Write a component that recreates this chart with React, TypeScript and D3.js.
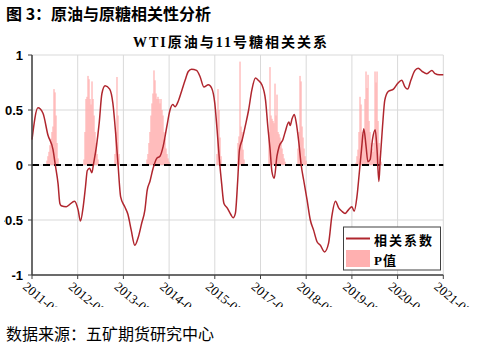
import * as d3 from "d3";

// x positions are in "tick periods": 0 = first label (2011), 9 = last (2021)
const tickLabels = [
  "2011-01", "2012-02", "2013-03", "2014-04", "2015-05",
  "2017-01", "2018-02", "2019-03", "2020-04", "2021-05",
];
const yTicks = [1, 0.5, 0, -0.5, -1];

// 相关系数 (rolling correlation)
const corrT = [
  0, 0.13, 0.24, 0.35, 0.46, 0.51, 0.57, 0.61, 0.64, 0.75,
  0.82, 0.93, 1.01, 1.06, 1.12, 1.17, 1.21, 1.26, 1.31, 1.35,
  1.41, 1.47, 1.53, 1.6, 1.7, 1.77, 1.83, 1.88, 1.94, 2.03,
  2.1, 2.17, 2.25, 2.33, 2.4, 2.47, 2.52, 2.58, 2.65, 2.73,
  2.8, 2.87, 2.95, 3.02, 3.08, 3.13, 3.2, 3.28, 3.35, 3.42,
  3.49, 3.6, 3.68, 3.76, 3.86, 3.93, 4.0, 4.05, 4.1, 4.15,
  4.2, 4.27, 4.35, 4.4, 4.45, 4.5, 4.54, 4.6, 4.67, 4.74,
  4.81, 4.89, 4.95, 5.03, 5.11, 5.16, 5.21, 5.25, 5.3, 5.36,
  5.41, 5.49, 5.54, 5.62, 5.65, 5.69, 5.74, 5.78, 5.84, 5.89,
  5.95, 6.02, 6.09, 6.16, 6.24, 6.31, 6.4, 6.49, 6.56, 6.64,
  6.71, 6.78, 6.85, 6.92, 7.0, 7.05, 7.11, 7.16, 7.21, 7.26,
  7.31, 7.35, 7.4, 7.45, 7.51, 7.55, 7.59, 7.62, 7.67, 7.72,
  7.8, 7.91, 8.0, 8.09, 8.16, 8.22, 8.29, 8.38, 8.45, 8.54,
  8.64, 8.75, 8.82, 8.91, 9.0,
];
const corrV = [
  0.23, 0.52, 0.47, 0.27, 0.14, 0, -0.17, -0.35, -0.37, -0.38,
  -0.36, -0.33, -0.41, -0.51, -0.38, -0.2, -0.05, -0.03, -0.07, 0.02,
  0.17, 0.38, 0.65, 0.72, 0.69, 0.56, 0.29, 0.02, -0.29, -0.38,
  -0.45, -0.59, -0.73, -0.65, -0.53, -0.41, -0.23, -0.15, -0.03, 0.06,
  0.08, 0.17, 0.35, 0.5, 0.55, 0.53, 0.58, 0.68, 0.77, 0.85,
  0.87, 0.86, 0.8, 0.71, 0.73, 0.7, 0.56, 0.32, 0.05, -0.17,
  -0.35, -0.39, -0.45, -0.48, -0.44, -0.15, 0.14, 0.23, 0.36, 0.5,
  0.68, 0.79, 0.77, 0.73, 0.59, 0.35, 0.14, -0.06, -0.12, 0.08,
  0.17, 0.23, 0.3, 0.39, 0.36, 0.42, 0.46, 0.39, 0.2, 0,
  -0.15, -0.32, -0.5, -0.59, -0.7, -0.73, -0.79, -0.71, -0.47, -0.33,
  -0.39, -0.42, -0.44, -0.41, -0.38, -0.42, -0.29, -0.08, 0.14, 0.33,
  0.17, 0.03, 0.05, 0.23, 0.32, 0.14, -0.15, 0.05, 0.35, 0.59,
  0.67, 0.69, 0.74, 0.77, 0.71, 0.69, 0.77, 0.86, 0.88, 0.85,
  0.83, 0.86, 0.83, 0.82, 0.82,
];

// P值: runs of consecutive samples, one sample every pStep
const pStep = 0.0219;
const pRunStart = [0.328, 1.138, 1.816, 2.516, 4.048, 4.508, 5.186, 5.821, 7.09];
const pRunValues = [
  [0.04, 0.08, 0.12, 0.18, 0.24, 0.3, 0.35, 0.69, 0.66, 0.45, 0.2, 0.06],
  [0.05, 0.3, 0.6, 0.62, 0.81, 0.78, 0.6, 0.55, 0.76, 0.6, 0.45, 0.3, 0.2, 0.1, 0.05],
  [0.1, 0.3, 0.8, 0.45, 0.1],
  [0.05, 0.1, 0.2, 0.3, 0.45, 0.56, 0.65, 0.86, 0.77, 0.65, 0.6, 0.62, 0.6, 0.56, 0.6, 0.5, 0.45, 0.3, 0.24, 0.15, 0.1, 0.06, 0.03],
  [0.1, 0.69, 0.5, 0.25, 0.08],
  [0.2, 0.26, 0.94, 0.35, 0.3, 0.14, 0.05],
  [0.3, 0.89, 0.45, 0.42, 0.4, 0.38, 0.74, 0.45, 0.64, 0.3, 0.28, 0.25, 0.2, 0.15, 0.1, 0.06, 0.03],
  [0.15, 0.3, 0.81, 0.76, 0.35, 0.25, 0.15, 0.08, 0.04],
  [0.02, 0.08, 0.14, 0.3, 0.62, 0.55, 0.3, 0.28, 0.3, 0.6, 0.85, 0.7, 0.82, 0.4, 0.3, 0.2, 0.15, 0.12, 0.2, 0.85, 0.75, 0.85, 0.4, 0.2, 0.08, 0.03],
];

const W = 483;
const H = 352;
const plot = { left: 32, right: 443.3, top: 55, bottom: 275 };
const lineColor = "#B0262E";
const barColor = "#FFB0B0";
const cjk = "'Noto Sans CJK SC', sans-serif";
const serif = "'Liberation Serif', 'Noto Sans CJK SC', serif";

export default function App() {
  const x = d3.scaleLinear().domain([0, 9]).range([plot.left, plot.right]);
  const y = d3.scaleLinear().domain([-1, 1]).range([plot.bottom, plot.top]);

  const corr = corrT.map((t, i) => ({ t, v: corrV[i] }));
  const line = d3
    .line<{ t: number; v: number }>()
    .x((d) => x(d.t))
    .y((d) => y(d.v))
    .curve(d3.curveMonotoneX);

  const bars = pRunStart.flatMap((s, r) =>
    pRunValues[r].map((p, k) => ({ t: s + k * pStep, p }))
  );
  const bw = x(pStep) - x(0) + 0.2;

  return (
    <svg
      width={W}
      height={H}
      style={{ position: "absolute", left: 0, top: 0, background: "#fff" }}
    >
      <defs>
        <clipPath id="chartClip">
          <rect x={4} y={25} width={W - 4} height={282} />
        </clipPath>
      </defs>

      <text x={6} y={20} fontFamily={cjk} fontWeight="bold" fontSize={16}>
        图 3：原油与原糖相关性分析
      </text>

      <g clipPath="url(#chartClip)">
        <text
          x={231}
          y={47}
          textAnchor="middle"
          fontFamily={serif}
          fontWeight="bold"
          fontSize={14}
          letterSpacing={2}
        >
          WTI原油与11号糖相关关系
        </text>

        {/* grid */}
        {yTicks.map((v) => (
          <line
            key={"h" + v}
            x1={plot.left}
            x2={plot.right}
            y1={y(v)}
            y2={y(v)}
            stroke="#d9d9d9"
          />
        ))}
        {tickLabels.map((_, i) => (
          <line
            key={"v" + i}
            x1={x(i)}
            x2={x(i)}
            y1={plot.top}
            y2={plot.bottom}
            stroke="#d9d9d9"
          />
        ))}

        {/* P值 bars */}
        {bars.map((b, i) => (
          <rect
            key={"b" + i}
            x={x(b.t) - bw / 2}
            y={y(b.p)}
            width={bw}
            height={y(0) - y(b.p)}
            fill={barColor}
          />
        ))}

        {/* zero line */}
        <line
          x1={plot.left}
          x2={plot.right}
          y1={y(0)}
          y2={y(0)}
          stroke="#000"
          strokeWidth={2}
          strokeDasharray="7 4"
        />

        <path d={line(corr) ?? ""} fill="none" stroke={lineColor} strokeWidth={1.5} />

        {/* axes */}
        <line x1={plot.left} x2={plot.left} y1={plot.top} y2={plot.bottom} stroke="#404040" strokeWidth={1.5} />
        <line x1={plot.left} x2={plot.right} y1={plot.bottom} y2={plot.bottom} stroke="#404040" strokeWidth={1.5} />
        {yTicks.map((v) => (
          <g key={"yt" + v}>
            <line x1={plot.left - 4} x2={plot.left} y1={y(v)} y2={y(v)} stroke="#404040" />
            <text
              x={23}
              y={y(v)}
              dy="0.35em"
              textAnchor="end"
              fontFamily="'Liberation Sans', sans-serif"
              fontWeight="bold"
              fontSize={13}
            >
              {v}
            </text>
          </g>
        ))}
        {tickLabels.map((lab, i) => (
          <g key={"xt" + i}>
            <line x1={x(i)} x2={x(i)} y1={plot.bottom} y2={plot.bottom + 4} stroke="#404040" />
            <text
              transform={`translate(${x(i) - 10},${plot.bottom + 13}) rotate(40)`}
              fontFamily="'Liberation Serif', serif"
              fontSize={13}
            >
              {lab}
            </text>
          </g>
        ))}

        {/* legend */}
        <rect x={343.5} y={227} width={97} height={43} fill="#fff" stroke="#404040" />
        <line x1={346} x2={370} y1={238.5} y2={238.5} stroke={lineColor} strokeWidth={2} />
        <text x={374} y={245} fontFamily={serif} fontWeight="bold" fontSize={13} letterSpacing={2}>
          相关系数
        </text>
        <rect x={346} y={250} width={24} height={17} fill={barColor} />
        <text x={374} y={265} fontFamily={serif} fontWeight="bold" fontSize={13} letterSpacing={1}>
          P值
        </text>
      </g>

      <text x={6} y={340} fontFamily={cjk} fontSize={16}>
        数据来源：五矿期货研究中心
      </text>
    </svg>
  );
}
